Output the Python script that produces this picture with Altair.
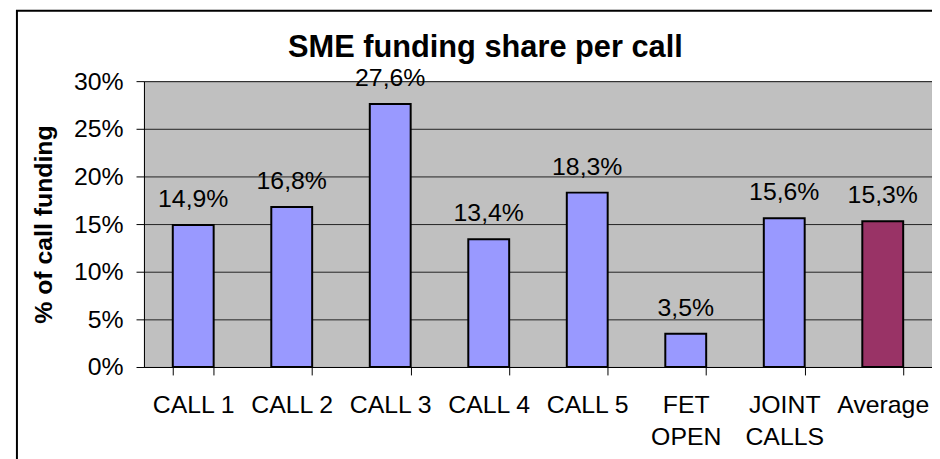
import altair as alt
import pandas as pd

title_text = "SME funding share per call"
categories = ["CALL 1", "CALL 2", "CALL 3", "CALL 4", "CALL 5", "FET\nOPEN", "JOINT\nCALLS", "Average"]
shares = [0.149, 0.168, 0.276, 0.134, 0.183, 0.035, 0.156, 0.153]
kinds = ["call", "call", "call", "call", "call", "call", "call", "average"]
y_ticks = [0, 0.05, 0.10, 0.15, 0.20, 0.25, 0.30]

df = pd.DataFrame({"call": categories, "share": shares, "kind": kinds})
FONT = "Liberation Sans"
W, H = 794, 288
FS = 25

x_enc = alt.X("call:N", sort=categories, title=None,
              scale=alt.Scale(paddingInner=0.585, paddingOuter=0.2925),
              axis=alt.Axis(labelExpr="split(datum.label, '\\n')", labelAngle=0,
                            labelFontSize=FS, labelFont=FONT, labelColor="black",
                            labelPadding=18, labelLineHeight=32, labelBaseline="top",
                            tickBand="extent", tickSize=8, tickColor="black",
                            domainColor="black", grid=False))
y_enc = alt.Y("share:Q", scale=alt.Scale(domain=[0, 0.30], nice=False),
              axis=alt.Axis(values=y_ticks, format=".0%", title="% of call funding",
                            titleFont=FONT, titleFontSize=25, titleFontWeight="bold",
                            titleColor="black", titleX=-93, titleY=144, titleAngle=-90,
                            titleAlign="center", titleBaseline="alphabetic",
                            labelFontSize=FS, labelFont=FONT, labelColor="black",
                            labelPadding=13, tickSize=8, tickColor="black",
                            domainColor="black", grid=True, gridColor="#222222"))

bars = alt.Chart(df).mark_bar(stroke="black", strokeWidth=2).encode(
    x=x_enc, y=y_enc,
    color=alt.Color("kind:N", scale=alt.Scale(domain=["call", "average"],
                                              range=["#9999FF", "#993366"]), legend=None),
)

labels = alt.Chart(df).transform_calculate(
    lbl="replace(format(datum.share, '.1%'), '.', ',')"
).mark_text(font=FONT, fontSize=FS, color="black", baseline="alphabetic", dy=-18).encode(
    x=alt.X("call:N", sort=categories), y="share:Q", text="lbl:N"
)

one = pd.DataFrame({"t": [title_text]})

border = alt.Chart(one).mark_rect(
    fill="transparent", stroke="black", strokeWidth=2
).encode(x=alt.value(-128), x2=alt.value(W + 60), y=alt.value(-71), y2=alt.value(H + 200))

title = alt.Chart(one).mark_text(
    font=FONT, fontSize=31, fontWeight="bold", color="black",
    align="center", baseline="alphabetic"
).encode(x=alt.value(W / 2 - 53), y=alt.value(-24), text="t:N")

chart = alt.layer(bars, labels, border, title).properties(
    width=W, height=H,
    autosize=alt.AutoSizeParams(type="none"),
    padding={"left": 137, "top": 72, "right": 0, "bottom": 91},
).configure_view(fill="#C0C0C0", stroke="#808080", strokeWidth=1)

chart.save("out.html", embed_options={"renderer": "svg", "actions": False})
